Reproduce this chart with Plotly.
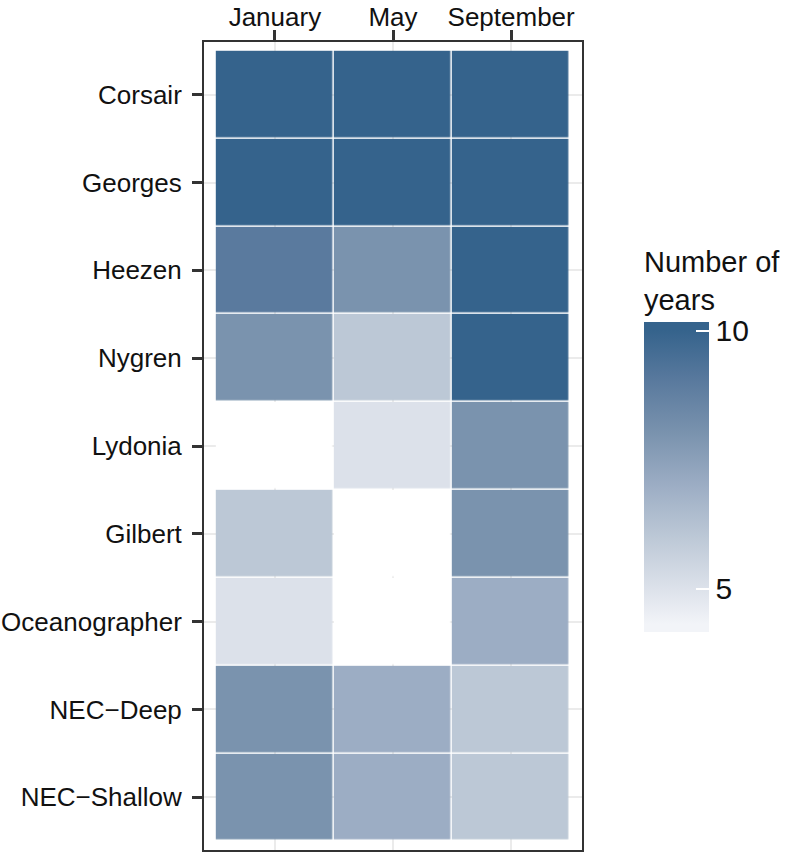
import numpy as np
import plotly.graph_objects as go

months = ["January", "May", "September"]
sites = ["Corsair", "Georges", "Heezen", "Nygren", "Lydonia", "Gilbert",
         "Oceanographer", "NEC\u2212Deep", "NEC\u2212Shallow"]

# number of years per site, one list per month (None = no data)
january = [10, 10, 9, 8, None, 6, 5, 8, 8]
may = [10, 10, 8, 6, 5, None, None, 7, 7]
september = [10, 10, 10, 10, 8, 8, 7, 6, 6]

# colour stops (value, colour)
stop_vals = [4.3, 5, 6, 7, 8, 9, 10]
stop_cols = ["#f2f4f8", "#dce1ea", "#bcc8d6", "#9cadc4", "#7a93ae", "#5a7a9e", "#35638c"]
zmin, zmax = 4.15, 10.16

z = np.array([january, may, september], dtype=float).T  # rows = sites
missing = np.where(np.isnan(z), 1.0, np.nan)

cscale = [[0, stop_cols[0]]]
for v, c in zip(stop_vals, stop_cols):
    cscale.append([(v - zmin) / (zmax - zmin), c])
cscale.append([1, stop_cols[-1]])

font = "Liberation Sans, Arial, sans-serif"

fig = go.Figure()
# white tiles for the missing cells (cover the grid lines like the reference)
fig.add_trace(go.Heatmap(x=months, y=sites, z=missing, showscale=False,
                         colorscale=[[0, "white"], [1, "white"]],
                         xgap=1.5, ygap=1.5, hoverinfo="skip"))
fig.add_trace(go.Heatmap(
    x=months, y=sites, z=z, zmin=zmin, zmax=zmax, colorscale=cscale,
    xgap=1.5, ygap=1.5,
    colorbar=dict(
        title=dict(text="Number of<br>years", side="top",
                   font=dict(size=29, color="#111", family=font)),
        tickvals=[5, 10], ticks="inside", ticklen=13, tickwidth=1.5,
        tickcolor="white", tickprefix="\u00a0\u00a0",
        tickfont=dict(size=30, color="#111", family=font),
        thickness=65, thicknessmode="pixels", len=385, lenmode="pixels",
        x=1.164, xanchor="left", y=0.269, yanchor="bottom",
        xpad=0, ypad=0, outlinewidth=0,
    ),
))

axis_common = dict(
    showline=True, mirror=True, linecolor="#333", linewidth=2,
    ticks="outside", ticklen=10, tickwidth=2.5, tickcolor="#333",
    showgrid=True, gridcolor="#ebebeb", gridwidth=2, zeroline=False,
    automargin=False,
    tickfont=dict(size=26, color="#111", family=font),
)
fig.update_xaxes(side="top", type="category", categoryorder="array",
                 categoryarray=months, range=[-0.6, len(months) - 0.4],
                 ticklabelstandoff=-6, **axis_common)
fig.update_yaxes(type="category", categoryorder="array", categoryarray=sites,
                 range=[len(sites) - 0.4, -0.6], ticklabelstandoff=5,
                 **axis_common)

fig.update_layout(
    width=789, height=855,
    margin=dict(l=204, r=207, t=42, b=5, autoexpand=False),
    plot_bgcolor="white", paper_bgcolor="white",
    font=dict(family=font),
)

# page body margin would shift the chart by 8px
fig.write_html("out.html", config={"displayModeBar": False},
               post_script="document.body.style.margin='0';")
